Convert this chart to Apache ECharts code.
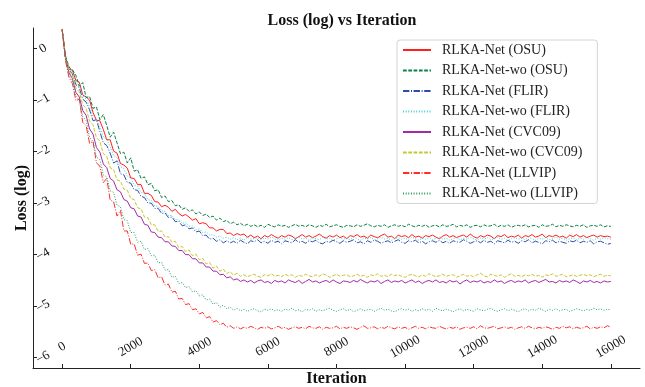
<!DOCTYPE html>
<html>
<head>
<meta charset="utf-8">
<script src="https://cdn.jsdelivr.net/npm/echarts@6/dist/echarts.min.js"></script>
<style>
html,body{margin:0;padding:0;background:#fff;}
#c{width:645px;height:387px;}
</style>
</head>
<body>
<div id="c"></div>
<script>
const iterations = [
0,100,200,300,400,500,600,700,800,900,
1000,1100,1200,1300,1400,1500,1600,1700,1800,1900,
2000,2100,2200,2300,2400,2500,2600,2700,2800,2900,
3000,3100,3200,3300,3400,3500,3600,3700,3800,3900,
4000,4100,4200,4300,4400,4500,4600,4700,4800,4900,
5000,5100,5200,5300,5400,5500,5600,5700,5800,5900,
6000,6100,6200,6300,6400,6500,6600,6700,6800,6900,
7000,7100,7200,7300,7400,7500,7600,7700,7800,7900,
8000,8100,8200,8300,8400,8500,8600,8700,8800,8900,
9000,9100,9200,9300,9400,9500,9600,9700,9800,9900,
10000,10100,10200,10300,10400,10500,10600,10700,10800,10900,
11000,11100,11200,11300,11400,11500,11600,11700,11800,11900,
12000,12100,12200,12300,12400,12500,12600,12700,12800,12900,
13000,13100,13200,13300,13400,13500,13600,13700,13800,13900,
14000,14100,14200,14300,14400,14500,14600,14700,14800,14900,
15000,15100,15200,15300,15400,15500,15600,15700,15800,15900,
16000
];

const seriesNames = [
'RLKA-Net (OSU)','RLKA-Net-wo (OSU)','RLKA-Net (FLIR)','RLKA-Net-wo (FLIR)',
'RLKA-Net (CVC09)','RLKA-Net-wo (CVC09)','RLKA-Net (LLVIP)','RLKA-Net-wo (LLVIP)'
];

const xTickValues = [0,2000,4000,6000,8000,10000,12000,14000,16000];
const yTickValues = [-6,-5,-4,-3,-2,-1,0];

const netOSU = [
0.37,-0.17,-0.40,-0.42,-0.62,-0.65,-0.90,-0.94,-1.00,-1.24,
-1.39,-1.40,-1.57,-1.77,-1.77,-1.99,-2.03,-2.23,-2.26,-2.32,
-2.51,-2.52,-2.64,-2.64,-2.81,-2.81,-2.85,-2.97,-2.98,-3.07,
-3.04,-3.08,-3.16,-3.12,-3.20,-3.25,-3.22,-3.27,-3.33,-3.30,
-3.40,-3.38,-3.40,-3.48,-3.48,-3.54,-3.51,-3.51,-3.59,-3.58,
-3.63,-3.59,-3.62,-3.60,-3.66,
-3.62,-3.67,-3.64,-3.69,-3.63,-3.66,-3.61,-3.65,-3.68,-3.63,
-3.66,-3.62,-3.64,-3.69,-3.65,-3.61,-3.66,-3.63,-3.67,-3.64,
-3.60,-3.65,-3.68,-3.63,-3.66,-3.62,-3.67,-3.64,-3.69,-3.63,
-3.65,-3.61,-3.66,-3.64,-3.68,-3.62,-3.65,-3.67,-3.63,-3.60,
-3.66,-3.64,-3.69,-3.62,-3.65,-3.63,-3.67,-3.61,-3.66,-3.64,
-3.68,-3.63,-3.65,-3.62,-3.66,-3.69,-3.64,-3.61,-3.66,-3.63,
-3.67,-3.64,-3.62,-3.66,-3.60,-3.65,-3.68,-3.63,-3.66,-3.62,
-3.64,-3.69,-3.63,-3.65,-3.61,-3.67,-3.64,-3.66,-3.62,-3.68,
-3.63,-3.65,-3.61,-3.66,-3.64,-3.60,-3.67,-3.63,-3.65,-3.62,
-3.66,-3.64,-3.68,-3.62,-3.65,-3.61,-3.66,-3.63,-3.67,-3.64,
-3.62,-3.66,-3.63,-3.65,-3.64,-3.66
];

const woOSU = [
0.37,-0.14,-0.36,-0.41,-0.52,-0.73,-0.66,-0.95,-0.93,-1.16,
-1.13,-1.38,-1.28,-1.49,-1.72,-1.62,-1.83,-2.04,-2.01,-2.22,
-2.12,-2.38,-2.35,-2.52,-2.49,-2.64,-2.62,-2.76,-2.74,-2.89,
-2.86,-2.97,-2.95,-3.05,-3.03,-3.12,-3.09,-3.16,-3.13,-3.21,
-3.17,-3.24,-3.21,-3.28,-3.25,-3.33,-3.29,-3.36,-3.33,-3.40,
-3.37,-3.42,-3.39,-3.44,-3.41,
-3.45,-3.42,-3.46,-3.43,-3.47,-3.41,-3.44,-3.46,-3.42,-3.45,
-3.43,-3.47,-3.44,-3.41,-3.45,-3.43,-3.46,-3.42,-3.44,-3.47,
-3.43,-3.45,-3.41,-3.46,-3.44,-3.42,-3.45,-3.47,-3.43,-3.44,
-3.46,-3.42,-3.45,-3.43,-3.40,-3.44,-3.46,-3.43,-3.45,-3.42,
-3.47,-3.44,-3.42,-3.45,-3.43,-3.46,-3.41,-3.44,-3.46,-3.43,
-3.45,-3.42,-3.47,-3.44,-3.43,-3.46,-3.42,-3.45,-3.44,-3.41,
-3.46,-3.43,-3.45,-3.42,-3.47,-3.44,-3.43,-3.46,-3.42,-3.45,
-3.44,-3.41,-3.46,-3.43,-3.45,-3.42,-3.47,-3.44,-3.43,-3.45,
-3.42,-3.46,-3.44,-3.43,-3.47,-3.42,-3.45,-3.44,-3.41,-3.46,
-3.43,-3.45,-3.42,-3.44,-3.46,-3.43,-3.45,-3.42,-3.47,-3.44,
-3.43,-3.45,-3.42,-3.46,-3.44,-3.45
];

const netFLIR = [
0.37,-0.19,-0.42,-0.49,-0.70,-0.76,-0.98,-1.04,-1.19,-1.40,
-1.38,-1.61,-1.83,-1.88,-2.03,-2.22,-2.18,-2.43,-2.45,-2.60,
-2.61,-2.74,-2.75,-2.87,-2.89,-3.00,-3.00,-3.10,-3.10,-3.20,
-3.19,-3.28,-3.27,-3.36,-3.35,-3.44,-3.42,-3.50,-3.48,-3.56,
-3.54,-3.63,-3.62,-3.70,-3.68,-3.74,-3.71,-3.77,
-3.73,-3.77,
-3.74,-3.78,-3.72,-3.76,-3.79,-3.73,-3.75,-3.71,-3.77,-3.74,
-3.78,-3.72,-3.76,-3.74,-3.79,-3.73,-3.75,-3.77,-3.71,-3.76,
-3.74,-3.78,-3.73,-3.75,-3.72,-3.77,-3.79,-3.74,-3.76,-3.72,
-3.75,-3.78,-3.73,-3.76,-3.74,-3.71,-3.77,-3.75,-3.79,-3.73,
-3.76,-3.72,-3.74,-3.78,-3.75,-3.73,-3.77,-3.74,-3.71,-3.76,
-3.78,-3.73,-3.75,-3.72,-3.77,-3.74,-3.79,-3.75,-3.73,-3.76,
-3.72,-3.77,-3.74,-3.78,-3.73,-3.75,-3.76,-3.71,-3.74,-3.78,
-3.75,-3.73,-3.77,-3.72,-3.76,-3.74,-3.79,-3.73,-3.75,-3.77,
-3.72,-3.76,-3.74,-3.78,-3.73,-3.75,-3.71,-3.77,-3.74,-3.76,
-3.79,-3.73,-3.75,-3.72,-3.77,-3.74,-3.76,-3.78,-3.73,-3.75,
-3.72,-3.77,-3.74,-3.76,-3.73,-3.79,-3.75,-3.74,-3.77,-3.80,
-3.78
];

const woFLIR = [
0.37,-0.18,-0.39,-0.47,-0.66,-0.73,-0.92,-0.98,-1.12,-1.32,
-1.38,-1.51,-1.71,-1.77,-1.90,-2.08,-2.12,-2.29,-2.33,-2.48,
-2.51,-2.65,-2.67,-2.79,-2.82,-2.93,-2.95,-3.05,-3.06,-3.15,
-3.16,-3.24,-3.24,-3.32,-3.32,-3.39,-3.38,-3.45,-3.44,-3.51,
-3.50,-3.57,-3.56,-3.62,-3.61,-3.66,-3.64,-3.68,-3.66,
-3.70,
-3.67,-3.71,-3.68,-3.72,-3.66,-3.70,-3.69,-3.67,-3.71,-3.68,
-3.70,-3.66,-3.69,-3.72,-3.68,-3.70,-3.67,-3.71,-3.69,-3.66,
-3.70,-3.68,-3.72,-3.67,-3.69,-3.71,-3.66,-3.70,-3.68,-3.72,
-3.69,-3.67,-3.70,-3.68,-3.71,-3.66,-3.69,-3.72,-3.68,-3.70,
-3.67,-3.71,-3.69,-3.66,-3.70,-3.68,-3.72,-3.69,-3.67,-3.70,
-3.68,-3.71,-3.66,-3.69,-3.72,-3.68,-3.70,-3.67,-3.71,-3.69,
-3.66,-3.70,-3.68,-3.72,-3.69,-3.67,-3.71,-3.68,-3.70,-3.66,
-3.69,-3.72,-3.68,-3.70,-3.67,-3.71,-3.69,-3.66,-3.70,-3.68,
-3.72,-3.69,-3.67,-3.70,-3.68,-3.71,-3.66,-3.69,-3.72,-3.68,
-3.70,-3.67,-3.71,-3.69,-3.66,-3.70,-3.68,-3.72,-3.69,-3.67,
-3.71,-3.68,-3.70,-3.66,-3.69,-3.72,-3.68,-3.70,-3.67,-3.69,
-3.70
];

const netCVC09 = [
0.37,-0.20,-0.47,-0.58,-0.85,-0.94,-1.20,-1.30,-1.56,-1.66,
-1.92,-2.01,-2.24,-2.31,-2.52,-2.57,-2.74,-2.78,-2.93,-2.96,
-3.09,-3.11,-3.25,-3.27,-3.41,-3.43,-3.56,-3.57,-3.66,-3.67,
-3.75,-3.75,-3.83,-3.84,-3.92,-3.92,-4.00,-4.00,-4.08,-4.08,
-4.16,-4.16,-4.24,-4.24,-4.32,-4.32,-4.39,-4.38,-4.45,-4.43,
-4.49,-4.47,-4.52,-4.49,
-4.53,-4.50,-4.55,-4.51,-4.49,-4.54,-4.52,-4.56,-4.50,-4.53,
-4.51,-4.55,-4.49,-4.52,-4.54,-4.50,-4.56,-4.52,-4.48,-4.53,
-4.51,-4.55,-4.52,-4.50,-4.54,-4.49,-4.53,-4.56,-4.51,-4.52,
-4.54,-4.50,-4.53,-4.48,-4.52,-4.55,-4.51,-4.53,-4.50,-4.56,
-4.52,-4.49,-4.54,-4.51,-4.53,-4.50,-4.55,-4.52,-4.49,-4.54,
-4.51,-4.56,-4.52,-4.50,-4.53,-4.49,-4.54,-4.52,-4.55,-4.50,
-4.53,-4.51,-4.57,-4.52,-4.49,-4.54,-4.51,-4.53,-4.50,-4.55,
-4.52,-4.54,-4.49,-4.53,-4.51,-4.56,-4.52,-4.50,-4.54,-4.51,
-4.53,-4.49,-4.55,-4.52,-4.50,-4.54,-4.51,-4.48,-4.53,-4.52,
-4.55,-4.50,-4.53,-4.51,-4.54,-4.49,-4.52,-4.56,-4.51,-4.53,
-4.50,-4.54,-4.52,-4.55,-4.51,-4.53,-4.52
];

const woCVC09 = [
0.37,-0.18,-0.44,-0.52,-0.77,-0.84,-1.09,-1.16,-1.41,-1.48,
-1.73,-1.80,-2.04,-2.09,-2.31,-2.35,-2.55,-2.57,-2.73,-2.75,
-2.91,-2.93,-3.09,-3.11,-3.27,-3.28,-3.42,-3.42,-3.55,-3.54,
-3.66,-3.65,-3.76,-3.74,-3.86,-3.84,-3.94,-3.91,-4.02,-3.99,
-4.10,-4.07,-4.18,-4.15,-4.26,-4.22,-4.32,-4.28,-4.37,-4.33,
-4.40,-4.36,-4.42,
-4.39,-4.43,-4.40,-4.38,-4.42,-4.44,-4.39,-4.41,-4.37,-4.42,
-4.40,-4.43,-4.38,-4.41,-4.39,-4.44,-4.40,-4.42,-4.38,-4.41,
-4.43,-4.39,-4.42,-4.37,-4.40,-4.44,-4.41,-4.38,-4.42,-4.40,
-4.39,-4.43,-4.41,-4.38,-4.42,-4.40,-4.44,-4.39,-4.41,-4.37,
-4.42,-4.40,-4.43,-4.38,-4.41,-4.39,-4.42,-4.44,-4.40,-4.38,
-4.41,-4.43,-4.39,-4.42,-4.37,-4.40,-4.43,-4.41,-4.38,-4.42,
-4.40,-4.39,-4.44,-4.41,-4.38,-4.42,-4.40,-4.43,-4.39,-4.36,
-4.41,-4.43,-4.38,-4.40,-4.42,-4.39,-4.44,-4.40,-4.37,-4.42,
-4.40,-4.43,-4.39,-4.41,-4.38,-4.42,-4.40,-4.44,-4.39,-4.41,
-4.37,-4.42,-4.40,-4.38,-4.43,-4.41,-4.39,-4.42,-4.40,-4.38,
-4.41,-4.39,-4.43,-4.40,-4.38,-4.42,-4.40,-4.41
];

const netLLVIP = [
0.37,-0.24,-0.56,-0.68,-1.01,-0.98,-1.43,-1.50,-1.84,-1.80,
-2.22,-2.28,-2.60,-2.52,-2.94,-2.97,-3.25,-3.14,-3.54,-3.54,
-3.80,-3.79,-4.01,-3.99,-4.17,-4.16,-4.31,-4.29,-4.45,-4.43,
-4.59,-4.57,-4.73,-4.71,-4.86,-4.85,-4.97,-4.95,-5.07,-5.05,
-5.15,-5.12,-5.23,-5.20,-5.31,-5.28,-5.36,-5.33,-5.41,-5.38,
-5.43,
-5.40,-5.44,-5.41,-5.43,-5.39,-5.42,-5.45,-5.41,-5.43,
-5.40,-5.44,-5.42,-5.39,-5.43,-5.41,-5.45,-5.42,-5.40,-5.43,
-5.41,-5.44,-5.39,-5.42,-5.43,-5.40,-5.45,-5.41,-5.43,-5.42,
-5.39,-5.44,-5.41,-5.43,-5.40,-5.42,-5.45,-5.41,-5.38,-5.43,
-5.42,-5.40,-5.44,-5.41,-5.43,-5.39,-5.42,-5.44,-5.40,-5.43,
-5.41,-5.45,-5.42,-5.39,-5.43,-5.41,-5.44,-5.40,-5.42,-5.43,
-5.39,-5.42,-5.44,-5.41,-5.43,-5.40,-5.45,-5.42,-5.41,-5.43,
-5.40,-5.44,-5.38,-5.42,-5.43,-5.41,-5.39,-5.44,-5.42,-5.40,
-5.43,-5.41,-5.45,-5.42,-5.40,-5.43,-5.39,-5.42,-5.44,-5.41,
-5.43,-5.40,-5.42,-5.45,-5.41,-5.43,-5.39,-5.42,-5.40,-5.44,
-5.41,-5.43,-5.42,-5.39,-5.44,-5.41,-5.43,-5.40,-5.42,-5.38,
-5.41
];

const woLLVIP = [
0.37,-0.21,-0.52,-0.62,-0.92,-1.01,-1.32,-1.40,-1.72,-1.80,
-2.10,-2.16,-2.45,-2.49,-2.76,-2.79,-3.04,-3.07,-3.32,-3.34,
-3.57,-3.57,-3.76,-3.74,-3.90,-3.88,-4.02,-4.01,-4.16,-4.15,
-4.30,-4.29,-4.44,-4.42,-4.56,-4.54,-4.64,-4.62,-4.72,-4.70,
-4.80,-4.78,-4.88,-4.86,-4.96,-4.93,-5.02,-4.98,-5.05,-5.02,
-5.08,-5.04,-5.09,
-5.06,-5.10,-5.07,-5.05,-5.09,-5.11,-5.06,-5.08,
-5.05,-5.09,-5.07,-5.10,-5.06,-5.08,-5.04,-5.09,-5.07,-5.11,
-5.06,-5.08,-5.05,-5.10,-5.07,-5.09,-5.06,-5.04,-5.08,-5.10,
-5.07,-5.05,-5.09,-5.06,-5.11,-5.08,-5.05,-5.09,-5.07,-5.06,
-5.10,-5.07,-5.04,-5.08,-5.06,-5.09,-5.11,-5.07,-5.05,-5.08,
-5.06,-5.10,-5.07,-5.09,-5.05,-5.08,-5.06,-5.10,-5.04,-5.07,
-5.09,-5.06,-5.08,-5.11,-5.07,-5.05,-5.09,-5.06,-5.08,-5.10,
-5.05,-5.07,-5.09,-5.06,-5.04,-5.08,-5.10,-5.07,-5.05,-5.09,
-5.06,-5.08,-5.11,-5.07,-5.05,-5.09,-5.06,-5.08,-5.04,-5.07,
-5.10,-5.06,-5.08,-5.05,-5.09,-5.07,-5.06,-5.10,-5.08,-5.05,
-5.07,-5.09,-5.06,-5.08,-5.04,-5.07,-5.05,-5.08,-5.06,-5.07
];

const seriesValues = [netOSU, woOSU, netFLIR, woFLIR, netCVC09, woCVC09, netLLVIP, woLLVIP];
const seriesColors = ['#ff1f1f','#0b8043','#2b4fa8','#3fd0d8','#a52aa5','#c9c62a','#ff2d2d','#2a9d60'];
const DASH = [3.7,1.6], DASHDOT = [6.4,1.6,1,1.6], DOT = [1,1.65];
const seriesDash = ['solid', DASH, DASHDOT, DOT, 'solid', DASH, DASHDOT, DOT];

const FONT = "'Liberation Serif','Times New Roman',serif";
const minusFmt = v => String(v).replace('-', '\u2212');

const chart = echarts.init(document.getElementById('c'), null, {renderer: 'canvas'});
chart.setOption({
  animation: false,
  backgroundColor: '#fff',
  title: {
    text: 'Loss (log) vs Iteration',
    left: 337, top: 8, textAlign: 'center',
    textStyle: {fontFamily: FONT, fontWeight: 'bold', fontSize: 16, color: '#111'}
  },
  grid: {left: 33, right: 5, top: 28, bottom: 19, containLabel: false, outerBoundsMode: 'none'},
  legend: {
    orient: 'vertical', left: 397, top: 40,
    itemWidth: 28, itemHeight: 14, itemGap: 6.5,
    padding: [3, 15, 3, 5],
    itemStyle: {opacity: 0},
    borderColor: '#d4d4d4', borderWidth: 1, borderRadius: 3, backgroundColor: '#fff',
    textStyle: {fontFamily: FONT, fontSize: 14, color: '#222', padding: [0, 0, 0, 6]},
    data: seriesNames
  },
  xAxis: {
    type: 'value', min: -850, max: 16850,
    name: 'Iteration', nameLocation: 'middle', nameGap: 3, nameMoveOverlap: false,
    nameTextStyle: {fontFamily: FONT, fontWeight: 'bold', fontSize: 16, color: '#111'},
    axisLine: {show: true, onZero: false, lineStyle: {color: '#222', width: 1}},
    axisTick: {show: true, inside: true, length: 4, customValues: xTickValues, lineStyle: {color: '#222'}},
    axisLabel: {inside: true, rotate: 30, margin: 21, customValues: xTickValues,
      align: 'center', verticalAlign: 'middle',
      fontFamily: FONT, fontSize: 13, color: '#111', formatter: minusFmt},
    splitLine: {show: false}
  },
  yAxis: {
    type: 'value', min: -6.2, max: 0.4,
    name: 'Loss (log)', nameLocation: 'middle', nameGap: 3, nameRotate: 90, nameMoveOverlap: false,
    nameTextStyle: {fontFamily: FONT, fontWeight: 'bold', fontSize: 16, color: '#111'},
    axisLine: {show: true, onZero: false, lineStyle: {color: '#222', width: 1}},
    axisTick: {show: true, inside: true, length: 4, customValues: yTickValues, lineStyle: {color: '#222'}},
    axisLabel: {inside: true, rotate: 30, margin: 10, customValues: yTickValues,
      align: 'center', verticalAlign: 'middle',
      fontFamily: FONT, fontSize: 13, color: '#111', formatter: minusFmt},
    splitLine: {show: false}
  },
  series: seriesNames.map((name, k) => ({
    name: name,
    type: 'line',
    symbol: 'none',
    showSymbol: false,
    color: seriesColors[k],
    lineStyle: {width: 1, color: seriesColors[k], type: seriesDash[k]},
    data: iterations.map((it, i) => [it, seriesValues[k][i]])
  }))
});
</script>
</body>
</html>
